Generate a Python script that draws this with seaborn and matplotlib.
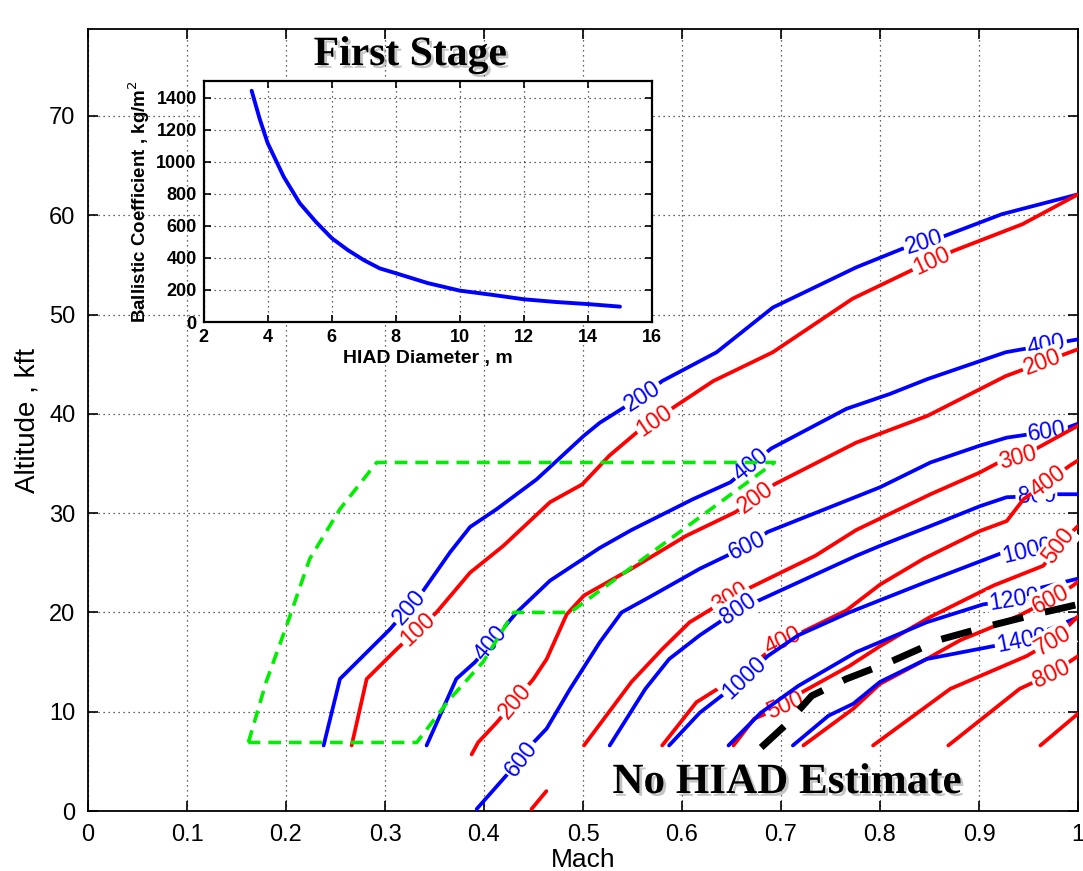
import numpy as np
import pandas as pd
import matplotlib
matplotlib.use("Agg")
import matplotlib.pyplot as plt
import matplotlib.patheffects as pe
import seaborn as sns

# ---------------- data (Mach, Altitude kft) ----------------
blue200_mach = [0.238, 0.2545, 0.305, 0.3387, 0.3657, 0.3859, 0.4128, 0.4532, 0.4717, 0.501, 0.517, 0.560, 0.580, 0.635, 0.6917, 0.776, 0.822, 0.865, 0.923, 1.0]
blue200_alt = [6.6, 13.3, 18.3, 22.2, 26.05, 28.6, 30.4, 33.4, 35.1, 37.8, 39.1, 41.8, 43.3, 46.2, 50.7, 54.75, 56.6, 57.9, 60.1, 62.1]

red100_mach = [0.2663, 0.2815, 0.3118, 0.352, 0.3859, 0.4195, 0.4667, 0.4993, 0.5268, 0.554, 0.5938, 0.6316, 0.6917, 0.7724, 0.8308, 0.874, 0.944, 1.0]
red100_alt = [6.6, 13.3, 16.3, 20.0, 24.0, 26.7, 31.1, 32.9, 35.8, 38.1, 40.8, 43.3, 46.2, 51.6, 54.4, 56.4, 59.1, 62.1]

blue400_mach = [0.342, 0.372, 0.391, 0.433, 0.4667, 0.517, 0.549, 0.611, 0.6488, 0.690, 0.766, 0.810, 0.848, 0.927, 1.0]
blue400_alt = [6.6, 13.3, 15.0, 20.0, 23.2, 26.5, 28.3, 31.4, 33.1, 36.5, 40.5, 42.0, 43.5, 46.2, 47.5]

red200_mach = [0.3875, 0.394, 0.4128, 0.45, 0.4633, 0.4835, 0.501, 0.549, 0.604, 0.654, 0.6934, 0.776, 0.848, 0.927, 1.0]
red200_alt = [5.7, 6.9, 8.9, 13.3, 15.3, 19.8, 21.7, 24.4, 27.7, 30.1, 32.9, 37.1, 39.8, 43.8, 46.5]

blue600_mach = [0.3926, 0.436, 0.45, 0.4633, 0.487, 0.517, 0.539, 0.570, 0.618, 0.666, 0.6865, 0.80, 0.851, 0.901, 0.928, 0.969, 0.989, 1.0]
blue600_alt = [0.2, 5.1, 6.9, 8.3, 12.3, 17.0, 20.0, 21.7, 24.4, 26.7, 28.1, 32.6, 35.1, 36.8, 37.6, 38.2, 38.6, 39.0]

red300_mach = [0.501, 0.549, 0.580, 0.6076, 0.6488, 0.673, 0.7346, 0.776, 0.851, 0.901, 0.918, 0.94, 0.958, 1.0]
red300_alt = [6.6, 13.0, 16.3, 19.0, 21.5, 22.7, 25.7, 28.3, 31.9, 34.1, 35.0, 35.6, 36.5, 38.8]

red_short_mach = [0.448, 0.463]
red_short_alt = [0.2, 2.0]

blue800_mach = [0.527, 0.563, 0.587, 0.618, 0.657, 0.6797, 0.776, 0.80, 0.851, 0.901, 0.928, 0.958, 0.978, 1.0]
blue800_alt = [6.6, 12.3, 15.3, 17.7, 20.3, 21.3, 25.7, 26.7, 28.7, 30.7, 31.6, 31.7, 31.9, 31.9]

red400_mach = [0.580, 0.6145, 0.652, 0.700, 0.721, 0.766, 0.80, 0.844, 0.901, 0.928, 0.945, 0.97, 0.992, 1.0]
red400_alt = [6.6, 10.95, 13.3, 17.0, 18.0, 20.2, 22.8, 25.4, 28.2, 29.2, 31.4, 33.2, 34.8, 35.3]

blue1000_mach = [0.587, 0.618, 0.662, 0.6865, 0.7175, 0.769, 0.845, 0.9236, 0.949, 1.0]
blue1000_alt = [6.6, 9.9, 13.3, 15.6, 17.7, 20.0, 23.0, 26.0, 26.2, 27.4]

red500_mach = [0.652, 0.673, 0.7037, 0.721, 0.769, 0.80, 0.85, 0.9145, 0.965, 0.98, 1.0]
red500_alt = [6.6, 9.3, 10.6, 11.95, 14.6, 16.6, 19.5, 22.7, 24.7, 26.7, 28.7]

blue1200_mach = [0.647, 0.6797, 0.7175, 0.776, 0.847, 0.904, 0.936, 0.963, 1.0]
blue1200_alt = [6.6, 9.9, 12.6, 16.0, 19.0, 20.8, 21.3, 22.5, 23.4]

red600_mach = [0.7226, 0.773, 0.80, 0.847, 0.881, 0.908, 0.941, 0.973, 0.995, 1.0]
red600_alt = [6.6, 10.3, 12.8, 15.3, 17.2, 18.3, 19.7, 21.35, 22.7, 23.1]

blue1400_mach = [0.712, 0.748, 0.773, 0.80, 0.847, 0.9145, 0.943, 0.968, 1.0]
blue1400_alt = [6.6, 9.6, 10.8, 13.0, 15.3, 16.6, 17.15, 18.2, 19.5]

red700_mach = [0.793, 0.871, 0.948, 0.975, 1.0]
red700_alt = [6.6, 12.3, 15.6, 17.15, 19.6]

red800_mach = [0.869, 0.941, 0.973, 1.0]
red800_alt = [6.6, 12.3, 13.8, 15.6]

red900_mach = [0.962, 1.0]
red900_alt = [6.6, 9.8]

nohiad_mach = [0.680, 0.704, 0.731, 0.766, 0.810, 0.862, 0.913, 0.965, 1.0]
nohiad_alt = [6.4, 8.6, 11.6, 13.3, 15.0, 17.3, 18.7, 20.0, 20.8]

envelope_mach = [0.162, 0.18, 0.2007, 0.224, 0.2545, 0.2916, 0.6934, 0.487, 0.43, 0.399, 0.3657, 0.332, 0.162]
envelope_alt = [6.9, 13.0, 18.7, 25.4, 30.4, 35.1, 35.1, 20.0, 20.0, 15.0, 11.3, 6.9, 6.9]

# inset: ballistic coefficient vs HIAD diameter
hiad_diam = [3.5, 3.75, 4, 4.5, 5, 5.5, 6, 6.5, 7, 7.5, 8, 9, 10, 11, 12, 13, 14, 15]
ballistic_coef = [1445, 1270, 1118, 908, 743, 627, 524, 450, 387, 335, 305, 243, 196, 170, 142, 125, 112, 96]

# contour labels: (text, Mach, Altitude)
blue200_labels = [("200", 0.326, 20.4), ("200", 0.560, 41.8), ("200", 0.8445, 57.2)]
red100_labels = [("100", 0.3337, 18.2), ("100", 0.5725, 39.3), ("100", 0.852, 55.4)]
blue400_labels = [("400", 0.4078, 16.9), ("400", 0.670, 34.8), ("400", 0.968, 46.9)]
red200_labels = [("200", 0.4313, 11.1), ("200", 0.675, 31.5), ("200", 0.964, 45.2)]
blue600_labels = [("600", 0.437, 5.3), ("600", 0.666, 26.7), ("600", 0.969, 38.2)]
red300_labels = [("300", 0.6488, 21.5), ("300", 0.939, 35.6)]
blue800_labels = [("800", 0.657, 20.3), ("800", 0.958, 31.7)]
red400_labels = [("400", 0.702, 17.1), ("400", 0.970, 33.2)]
blue1000_labels = [("1000", 0.663, 13.4), ("1000", 0.949, 26.3)]
red500_labels = [("500", 0.7037, 10.6), ("500", 0.98, 26.7)]
blue1200_labels = [("1200", 0.936, 21.3)]
red600_labels = [("600", 0.973, 21.35)]
blue1400_labels = [("1400", 0.943, 17.15)]
red700_labels = [("700", 0.975, 17.15)]
red800_labels = [("800", 0.973, 13.8)]

mach_ticks = [0, 0.1, 0.2, 0.3, 0.4, 0.5, 0.6, 0.7, 0.8, 0.9, 1.0]
mach_ticklabels = ["0", "0.1", "0.2", "0.3", "0.4", "0.5", "0.6", "0.7", "0.8", "0.9", "1"]
alt_ticks = [0, 10, 20, 30, 40, 50, 60, 70]
inset_xticks = [2, 4, 6, 8, 10, 12, 14, 16]
inset_yticks = [0, 200, 400, 600, 800, 1000, 1200, 1400]

# ---------------- style ----------------
sns.set_theme(style="ticks")
plt.rcParams['font.family'] = ['Liberation Sans', 'DejaVu Sans']
plt.rcParams['axes.linewidth'] = 1.3
plt.rcParams['text.color'] = 'black'
plt.rcParams['axes.labelcolor'] = 'black'
plt.rcParams['xtick.color'] = 'black'
plt.rcParams['ytick.color'] = 'black'

W, H = 1083, 871
fig = plt.figure(figsize=(W / 100, H / 100), dpi=100)
fig.patch.set_facecolor("white")

ax = fig.add_axes([88 / W, 60 / H, 990 / W, 782 / H])
ax.set_xlim(0, 1)
ax.set_ylim(0, 782 / 9.93)
ax.set_facecolor("white")
ax.set_xticks(mach_ticks)
ax.set_xticklabels(mach_ticklabels)
ax.set_yticks(alt_ticks)
ax.tick_params(direction="in", length=7, width=1.2, top=True, right=True,
               labelsize=17, pad=9, colors="black")
ax.grid(True, linestyle=(0, (1, 3)), color="black", linewidth=0.9, alpha=0.8)
ax.set_axisbelow(True)
for s in ax.spines.values():
    s.set_color("black")
    s.set_linewidth(1.3)

BLUE = "#0000ff"
RED = "#ff0000"

contours = [
    (blue200_mach, blue200_alt, BLUE, blue200_labels),
    (red100_mach, red100_alt, RED, red100_labels),
    (blue400_mach, blue400_alt, BLUE, blue400_labels),
    (red200_mach, red200_alt, RED, red200_labels),
    (blue600_mach, blue600_alt, BLUE, blue600_labels),
    (red300_mach, red300_alt, RED, red300_labels),
    (red_short_mach, red_short_alt, RED, []),
    (blue800_mach, blue800_alt, BLUE, blue800_labels),
    (red400_mach, red400_alt, RED, red400_labels),
    (blue1000_mach, blue1000_alt, BLUE, blue1000_labels),
    (red500_mach, red500_alt, RED, red500_labels),
    (blue1200_mach, blue1200_alt, BLUE, blue1200_labels),
    (red600_mach, red600_alt, RED, red600_labels),
    (blue1400_mach, blue1400_alt, BLUE, blue1400_labels),
    (red700_mach, red700_alt, RED, red700_labels),
    (red800_mach, red800_alt, RED, red800_labels),
    (red900_mach, red900_alt, RED, []),
]


def put_label(xs, ys, mx, my, txt, color, z):
    P = ax.transData.transform(np.column_stack([xs, ys]))
    q = ax.transData.transform((mx, my))
    best = None
    for i in range(len(P) - 1):
        a, b = P[i], P[i + 1]
        d = b - a
        t = np.clip(np.dot(q - a, d) / np.dot(d, d), 0, 1)
        dist = np.linalg.norm(a + t * d - q)
        if best is None or dist < best[0]:
            best = (dist, i, a + t * d)
    _, i, pt = best
    d = P[i + 1] - P[i]
    ang = np.degrees(np.arctan2(d[1], d[0]))
    if ang > 90:
        ang -= 180
    if ang < -90:
        ang += 180
    xy = ax.transData.inverted().transform(pt)
    ax.text(xy[0], xy[1], txt, rotation=ang, rotation_mode="anchor",
            ha="center", va="center", fontsize=16.5, color=color, zorder=z,
            bbox=dict(boxstyle="square,pad=0.08", fc="white", ec="none"))


z = 3
for xs, ys, col, labs in contours:
    df = pd.DataFrame({"Mach": xs, "Alt": ys})
    sns.lineplot(data=df, x="Mach", y="Alt", sort=False, estimator=None,
                 color=col, linewidth=2.7, ax=ax, zorder=z)
    for txt, mx, my in labs:
        put_label(xs, ys, mx, my, txt, col, z + 0.5)
    z += 1

df_env = pd.DataFrame({"Mach": envelope_mach, "Alt": envelope_alt})
sns.lineplot(data=df_env, x="Mach", y="Alt", sort=False, estimator=None,
             color="#00ee00", linewidth=2.6, linestyle=(0, (3.5, 2.2)), ax=ax, zorder=z)
z += 1
df_nh = pd.DataFrame({"Mach": nohiad_mach, "Alt": nohiad_alt})
sns.lineplot(data=df_nh, x="Mach", y="Alt", sort=False, estimator=None,
             color="black", linewidth=5, linestyle=(0, (4.5, 3.2)), ax=ax, zorder=z)

ax.set_xlabel("Mach", fontsize=19, labelpad=2, color="black")
ax.set_ylabel("Altitude , kft", fontsize=20, labelpad=6, color="black")

shadow = [pe.SimplePatchShadow(offset=(2, -2), shadow_rgbFace="0.5", alpha=0.45), pe.Normal()]
fig.text(410 / W, 1 - 65 / H, "First Stage", ha="center", va="baseline",
         fontsize=30, fontweight="bold", family=["Liberation Serif", "DejaVu Serif"],
         color="black", path_effects=shadow, zorder=20)
fig.text(787 / W, 1 - 793 / H, "No HIAD Estimate", ha="center", va="baseline",
         fontsize=31, fontweight="bold", family=["Liberation Serif", "DejaVu Serif"],
         color="black", path_effects=shadow, zorder=20)

# ---------------- inset ----------------
ins = fig.add_axes([203.6 / W, (H - 322) / H, 448.4 / W, 241 / H])
ins.set_facecolor("white")
df_in = pd.DataFrame({"Diameter": hiad_diam, "BC": ballistic_coef})
sns.lineplot(data=df_in, x="Diameter", y="BC", sort=False, estimator=None,
             color=BLUE, linewidth=2.8, ax=ins)
ins.set_xlim(2, 16)
ins.set_ylim(0, 1506)
ins.set_xticks(inset_xticks)
ins.set_yticks(inset_yticks)
ins.tick_params(direction="in", length=5, width=1.2, top=True, right=True,
                labelsize=13, pad=5, colors="black")
for lab in ins.get_xticklabels() + ins.get_yticklabels():
    lab.set_fontweight("bold")
ins.grid(True, linestyle=(0, (1, 3)), color="black", linewidth=0.9, alpha=0.8)
for s in ins.spines.values():
    s.set_color("black")
    s.set_linewidth(1.6)
ins.set_xlabel("HIAD Diameter , m", fontsize=14, fontweight="bold", labelpad=3, color="black")
ins.set_ylabel("Ballistic Coefficient , kg/m$^2$", fontsize=13.5, fontweight="bold",
               labelpad=3, color="black")

fig.savefig("out.png", dpi=100, facecolor="white")
